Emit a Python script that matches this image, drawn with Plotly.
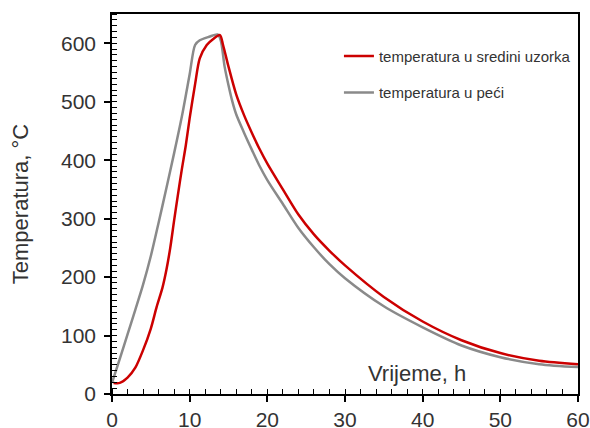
import plotly.graph_objects as go

# Furnace temperature (gray)
t_pec = [0, 1, 2, 3, 4, 5, 6, 7, 8, 9, 10, 10.7, 11.3, 12.5, 13.6,
         14.0, 14.5, 15.0, 15.5, 16, 17, 18, 19, 20, 22, 24, 26, 28, 30,
         35, 40, 45, 50, 55, 60]
T_pec = [19, 60, 102, 144, 187, 236, 293, 352, 412, 475, 547, 597, 605, 611, 615,
         605, 560, 528, 500, 478, 447, 418, 390, 366, 325, 284, 251, 222, 198,
         150, 114, 83, 63, 51, 46]

# Sample centre temperature (red)
t_sr = [0.2, 1, 2, 3, 4, 5, 5.75, 6.5, 7.0, 7.5, 8.0, 8.5, 9.0, 9.5, 10.0, 10.7, 11.3,
        12.2, 13.0, 13.9, 14.3, 15, 16, 17, 18, 19, 20, 22, 24, 26, 28, 30,
        35, 40, 45, 50, 55, 60]
T_sr = [19, 19, 28, 45, 75, 112, 149, 182, 212, 250, 297, 342, 385, 425, 472, 530, 574,
        597, 607, 614, 597, 560, 512, 477, 447, 419, 394, 350, 307, 273, 245, 220,
        166, 124, 92, 70, 57, 51]

y_ticks = [0, 100, 200, 300, 400, 500, 600]
x_ticks = [0, 10, 20, 30, 40, 50, 60]

FONT = "Liberation Sans, Arial, sans-serif"
TXT = "#333333"

fig = go.Figure()
fig.add_trace(go.Scatter(
    x=t_pec, y=T_pec, mode="lines", name="temperatura u peći",
    line=dict(color="#8a8a8a", width=2.5, shape="spline", smoothing=0.8),
    legendgroup="b", legendrank=2,
))
fig.add_trace(go.Scatter(
    x=t_sr, y=T_sr, mode="lines", name="temperatura u sredini uzorka",
    line=dict(color="#cc0000", width=2.5, shape="spline", smoothing=0.8),
    legendgroup="a", legendrank=1,
))

axis_common = dict(
    showline=True, linecolor="black", linewidth=1.5, mirror=True,
    showgrid=False, zeroline=False, automargin=False,
    ticks="outside", ticklen=6, tickwidth=1.5, tickcolor="black",
    tickfont=dict(family=FONT, size=21, color=TXT),
)

fig.update_xaxes(
    range=[0, 60], tickvals=x_ticks,
    minor=dict(dtick=2, ticks="inside", ticklen=5, tickwidth=1, tickcolor="black"),
    **axis_common,
)
fig.update_yaxes(
    range=[0, 650], tickvals=y_ticks, ticklabelstandoff=4,
    minor=dict(dtick=10, ticks="inside", ticklen=5, tickwidth=1, tickcolor="black"),
    **axis_common,
)

fig.add_annotation(
    text="Vrijeme, h", xref="paper", yref="paper",
    x=0.655, y=0.055, xanchor="center", yanchor="middle", showarrow=False,
    font=dict(family=FONT, size=22, color=TXT),
)
fig.add_annotation(
    text="Temperatura, °C", xref="paper", yref="paper",
    x=-0.197, y=0.5, xanchor="center", yanchor="middle", showarrow=False,
    textangle=-90, font=dict(family=FONT, size=22, color=TXT),
)

fig.update_layout(
    width=590, height=428,
    margin=dict(l=112, r=12, t=14, b=34),
    paper_bgcolor="white", plot_bgcolor="white",
    showlegend=True,
    legend=dict(
        x=0.487, y=0.932, xanchor="left", yanchor="top",
        traceorder="grouped", tracegroupgap=14,
        font=dict(family=FONT, size=15, color=TXT),
        bgcolor="rgba(0,0,0,0)",
    ),
)

fig.write_html("out.html")
